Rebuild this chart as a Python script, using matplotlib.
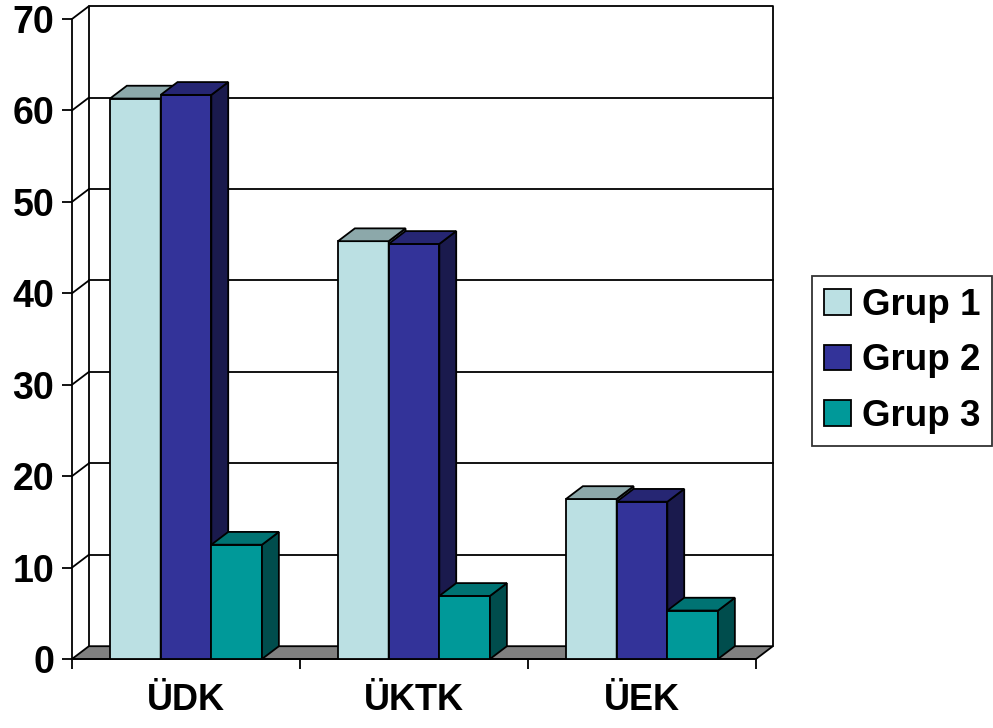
import numpy as np
import matplotlib
matplotlib.use("Agg")
import matplotlib.pyplot as plt
from matplotlib.patches import Patch

plt.rcParams['font.family'] = ['Liberation Sans', 'DejaVu Sans']
plt.rcParams['font.weight'] = 'bold'

categories = ['ÜDK', 'ÜKTK', 'ÜEK']
grup1 = [61.3, 45.7, 17.5]
grup2 = [61.7, 45.4, 17.2]
grup3 = [12.5, 6.9, 5.3]
series_names = ['Grup 1', 'Grup 2', 'Grup 3']

# front, top, side colours per series
colors = [
    ('#bbe0e3', '#8ca8aa', '#5e7072'),
    ('#333399', '#262673', '#1a1a4d'),
    ('#009999', '#007373', '#004d4d'),
]

ddx, ddy = 0.074, 1.4   # depth of the pseudo-3d box
lw = 1.3
bar_w = 2 / 9
gap = 1 / 6

fig = plt.figure(figsize=(9.93, 7.28), dpi=100)
ax = fig.add_axes([72 / 993, 1 - 659 / 728, 684 / 993, 640 / 728])
ax.set_xlim(0, 3)
ax.set_ylim(0, 70)

ncat = len(categories)

# back wall + side wall lines
for y in range(10, 71, 10):
    ax.plot([0, ddx], [y, y + ddy], color='black', lw=lw, clip_on=False, zorder=1)
    if y < 70:
        ax.plot([ddx, ncat + ddx], [y + ddy, y + ddy], color='black', lw=lw,
                clip_on=False, zorder=1)
ax.plot([ddx, ddx, ncat + ddx, ncat + ddx], [ddy, 70 + ddy, 70 + ddy, ddy],
        color='black', lw=lw, clip_on=False, zorder=1)

# floor
ax.fill([0, ncat, ncat + ddx, ddx], [0, 0, ddy, ddy], facecolor='#808080',
        edgecolor='black', lw=lw, clip_on=False, zorder=1.5)

# bars
data = [grup1, grup2, grup3]
for c in range(ncat):
    for s, vals in enumerate(data):
        v = vals[c]
        x0 = c + gap + s * bar_w
        x1 = x0 + bar_w
        front, top, side = colors[s]
        z = 3 + c * 0.1 + s * 0.01
        ax.bar(x0, v, width=bar_w, align='edge', color=front, edgecolor='black',
               lw=lw, zorder=z)
        ax.fill([x1, x1 + ddx, x1 + ddx, x1], [0, ddy, v + ddy, v],
                facecolor=side, edgecolor='black', lw=lw, clip_on=False, zorder=z)
        ax.fill([x0, x1, x1 + ddx, x0 + ddx], [v, v, v + ddy, v + ddy],
                facecolor=top, edgecolor='black', lw=lw, clip_on=False, zorder=z)

# axes
for sp in ['top', 'right']:
    ax.spines[sp].set_visible(False)
for sp in ['left', 'bottom']:
    ax.spines[sp].set_linewidth(lw)
    ax.spines[sp].set_zorder(2.5)

ax.set_yticks(range(0, 71, 10))
ax.tick_params(axis='y', direction='out', length=7.2, width=lw, pad=5.5,
               labelsize=27)
ax.set_xticks(np.arange(ncat) + 0.5)
ax.set_xticklabels(categories)
ax.set_xticks(np.arange(ncat + 1), minor=True)
ax.tick_params(axis='x', which='major', length=0, pad=17, labelsize=26)
ax.tick_params(axis='x', which='minor', direction='out', length=7.2, width=lw)
for lab in ax.get_xticklabels() + ax.get_yticklabels():
    lab.set_fontweight('bold')

handles = [Patch(facecolor=colors[i][0], edgecolor='black', lw=lw,
                 label=series_names[i]) for i in range(3)]
leg = fig.legend(handles=handles, loc='upper left',
                 bbox_to_anchor=(812 / 993, 1 - 276 / 728),
                 frameon=True, fancybox=False, fontsize=26.5,
                 handlelength=0.72, handleheight=0.7, handletextpad=0.3,
                 labelspacing=0.55, borderpad=0.33, borderaxespad=0)
leg.get_frame().set_edgecolor('black')
leg.get_frame().set_linewidth(lw)
for t in leg.get_texts():
    t.set_fontweight('bold')

fig.savefig('out.png', dpi=100)
